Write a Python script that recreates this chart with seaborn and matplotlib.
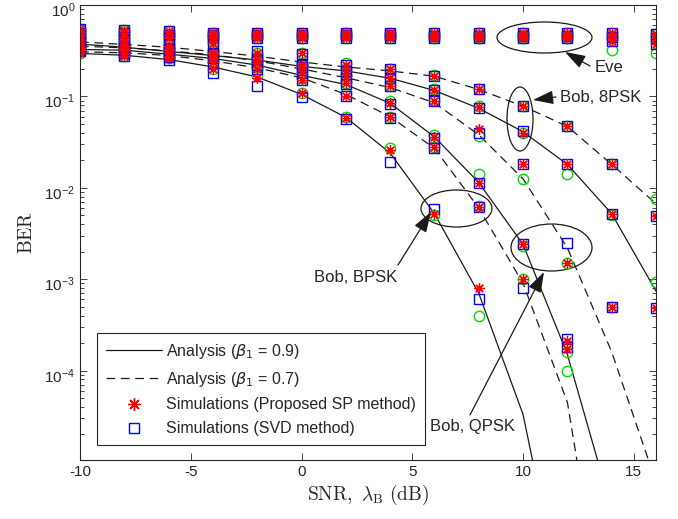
import matplotlib
matplotlib.use("Agg")
import matplotlib.pyplot as plt
import matplotlib.transforms as mtrans
import seaborn as sns
import pandas as pd
from matplotlib.lines import Line2D
from matplotlib.patches import Ellipse

nan = float("nan")
snr = [-10, -8, -6, -4, -2, 0, 2, 4, 6, 8, 10, 12, 14, 16]

# Analysis curves (beta1 = 0.9 solid, beta1 = 0.7 dashed)
ana_bpsk_09 = [0.295, 0.282, 0.253, 0.21, 0.163, 0.105, 0.059, 0.024, 0.0052, 7.0e-4, 3.3e-5, 1.5e-7, 1e-10, 1e-13]
ana_bpsk_07 = [0.307, 0.30, 0.28, 0.245, 0.205, 0.16, 0.105, 0.06, 0.027, 0.0060, 9.0e-4, 4.5e-5, 5e-8, 1e-11]
ana_qpsk_09 = [0.326, 0.32, 0.29, 0.26, 0.22, 0.17, 0.135, 0.084, 0.036, 0.0114, 0.0024, 1.5e-4, 3e-6, 1e-9]
ana_qpsk_07 = [0.354, 0.34, 0.315, 0.285, 0.245, 0.20, 0.16, 0.125, 0.085, 0.038, 0.0125, 0.0022, 1.6e-4, 6e-6]
ana_8psk_09 = [0.373, 0.345, 0.31, 0.28, 0.25, 0.213, 0.19, 0.158, 0.116, 0.074, 0.041, 0.018, 0.0052, 7.4e-4]
ana_8psk_07 = [0.395, 0.37, 0.345, 0.31, 0.275, 0.238, 0.21, 0.19, 0.166, 0.119, 0.078, 0.047, 0.018, 0.0067]

# Simulations: proposed SP method (red), SVD method (blue), extra (green)
sp_bpsk_09 = [0.30, 0.28, 0.26, 0.20, 0.16, 0.11, 0.058, 0.026, 0.0052, 8.0e-4, nan, nan, nan, nan]
svd_bpsk_09 = [0.31, 0.275, 0.25, 0.18, 0.13, 0.098, 0.057, 0.019, 0.0058, 6.0e-4, nan, nan, nan, nan]
gr_bpsk_09 = [0.30, 0.28, 0.26, 0.20, 0.17, 0.11, 0.060, 0.027, 0.0050, 4.0e-4, nan, nan, nan, nan]

sp_bpsk_07 = [0.32, 0.30, 0.28, 0.24, 0.20, 0.15, 0.10, 0.059, 0.028, 0.0062, 1.0e-3, 1.7e-4, nan, nan]
svd_bpsk_07 = [0.32, 0.30, 0.27, 0.23, 0.20, 0.15, 0.10, 0.058, 0.027, 0.0062, 8.0e-4, 1.8e-4, nan, nan]
gr_bpsk_07 = [0.31, 0.30, 0.28, 0.24, 0.21, 0.16, 0.11, 0.060, 0.028, 0.0063, 1.0e-3, 1.0e-4, nan, nan]

sp_qpsk_09 = [0.34, 0.32, 0.30, 0.26, 0.23, 0.18, 0.14, 0.084, 0.036, 0.0114, 0.0024, 2.1e-4, nan, nan]
svd_qpsk_09 = [0.34, 0.32, 0.29, 0.26, 0.22, 0.18, 0.135, 0.082, 0.035, 0.0114, 0.0024, 2.2e-4, nan, nan]
gr_qpsk_09 = [0.35, 0.33, 0.30, 0.27, 0.23, 0.18, 0.14, 0.088, 0.038, 0.014, 0.0023, 1.6e-4, nan, nan]

sp_qpsk_07 = [0.36, 0.34, 0.32, 0.29, 0.25, 0.21, 0.165, 0.13, 0.09, 0.044, 0.018, 0.0015, 5.0e-4, nan]
svd_qpsk_07 = [0.36, 0.35, 0.32, 0.29, 0.25, 0.21, 0.16, 0.13, 0.09, 0.040, 0.018, 0.0025, 5.0e-4, nan]
gr_qpsk_07 = [0.37, 0.35, 0.33, 0.30, 0.26, 0.22, 0.17, 0.13, 0.092, 0.037, 0.0125, 0.0015, 5.0e-4, nan]

sp_8psk_09 = [0.38, 0.36, 0.33, 0.30, 0.25, 0.22, 0.19, 0.16, 0.116, 0.076, 0.040, 0.018, 0.0052, 4.8e-4]
svd_8psk_09 = [0.38, 0.36, 0.33, 0.30, 0.26, 0.22, 0.19, 0.16, 0.116, 0.074, 0.042, 0.018, 0.0052, 4.8e-4]
gr_8psk_09 = [0.39, 0.37, 0.34, 0.31, 0.26, 0.23, 0.20, 0.16, 0.12, 0.078, 0.040, 0.014, 0.0050, 9.3e-4]

sp_8psk_07 = [0.41, 0.40, 0.36, 0.38, 0.30, 0.30, 0.22, 0.20, 0.166, 0.119, 0.078, 0.047, 0.018, 0.0049]
svd_8psk_07 = [0.42, 0.40, 0.37, 0.37, 0.31, 0.29, 0.22, 0.20, 0.166, 0.119, 0.078, 0.047, 0.018, 0.0049]
gr_8psk_07 = [0.42, 0.41, 0.37, 0.38, 0.30, 0.30, 0.23, 0.20, 0.17, 0.12, 0.078, 0.047, 0.018, 0.0076]

sp_eve_bpsk = [0.55, 0.53, 0.52, 0.50, 0.50, 0.50, 0.50, 0.50, 0.50, 0.50, 0.50, 0.50, 0.49, 0.48]
sp_eve_qpsk = [0.50, 0.50, 0.47, 0.47, 0.47, 0.47, 0.47, 0.47, 0.46, 0.46, 0.46, 0.46, 0.45, 0.44]
sp_eve_8psk = [0.47, 0.45, 0.44, 0.44, 0.44, 0.44, 0.43, 0.43, 0.43, 0.43, 0.43, 0.43, 0.40, 0.37]
gr_eve_8psk = [0.46, 0.45, 0.44, 0.44, 0.44, 0.44, 0.43, 0.43, 0.43, 0.43, 0.43, 0.43, 0.32, 0.30]

legend_labels = [r"Analysis ($\beta_1$ = 0.9)", r"Analysis ($\beta_1$ = 0.7)",
                 "Simulations (Proposed SP method)", "Simulations (SVD method)"]

sns.set_theme(style="ticks")
plt.rcParams["font.family"] = ["Liberation Sans", "DejaVu Sans"]
plt.rcParams["axes.unicode_minus"] = False

W, H = 678, 519
fig = plt.figure(figsize=(W / 100, H / 100), dpi=100)
ax = fig.add_axes([80 / W, 1 - 460 / H, 576 / W, 455 / H])
ax.set_yscale("log")

dash = (0, (7, 4.5))
curves = [(ana_bpsk_09, "-"), (ana_bpsk_07, dash), (ana_qpsk_09, "-"),
          (ana_qpsk_07, dash), (ana_8psk_09, "-"), (ana_8psk_07, dash)]
for vals, ls in curves:
    sns.lineplot(x=snr, y=vals, ax=ax, color="k", linewidth=0.9, linestyle=ls,
                 estimator=None, sort=False, legend=False)

sp_sets = [sp_bpsk_09, sp_bpsk_07, sp_qpsk_09, sp_qpsk_07, sp_8psk_09, sp_8psk_07,
           sp_eve_bpsk, sp_eve_qpsk, sp_eve_8psk]
svd_sets = [svd_bpsk_09, svd_bpsk_07, svd_qpsk_09, svd_qpsk_07, svd_8psk_09, svd_8psk_07,
            sp_eve_bpsk, sp_eve_qpsk, sp_eve_8psk]
gr_sets = [gr_bpsk_09, gr_bpsk_07, gr_qpsk_09, gr_qpsk_07, gr_8psk_09, gr_8psk_07,
           sp_eve_bpsk, sp_eve_qpsk, gr_eve_8psk]

star = (8, 2, 0)


def marks(vals, marker, color, size, mew):
    df = pd.DataFrame({"snr": snr, "ber": vals}).dropna()
    sns.lineplot(data=df, x="snr", y="ber", ax=ax, linestyle="none", marker=marker,
                 markersize=size, markerfacecolor="none", markeredgecolor=color,
                 markeredgewidth=mew, color=color, estimator=None, sort=False, legend=False)


for vals in gr_sets:
    marks(vals, "o", "#00e000", 7.5, 1.0)
for vals in svd_sets:
    marks(vals, "s", "#0000ff", 6.5, 1.0)
for vals in sp_sets:
    marks(vals, star, "#ff0000", 7.5, 0.9)

ax.set_xlim(-10, 16)
ax.set_ylim(1.05e-5, 1)
ax.set_xticks([-10, -5, 0, 5, 10, 15])
ax.set_yticks([1e-4, 1e-3, 1e-2, 1e-1, 1])
ax.yaxis.set_minor_locator(matplotlib.ticker.LogLocator(base=10, subs=range(2, 10), numticks=20))
ax.xaxis.set_minor_locator(matplotlib.ticker.NullLocator())
ax.tick_params(which="both", direction="in", top=True, right=True, colors="#262626",
               labelsize=11, width=0.6)
ax.tick_params(which="major", length=5)
ax.tick_params(which="minor", length=3)
for s in ax.spines.values():
    s.set_color("#262626")
    s.set_linewidth(0.8)

# MATLAB places the exponent labels slightly below the tick
shift = mtrans.ScaledTranslation(0, -3 / 72, fig.dpi_scale_trans)
for lab in ax.get_yticklabels():
    lab.set_transform(lab.get_transform() + shift)

ax.set_xlabel(r"$\mathrm{SNR},\ \lambda_{\mathrm{B}}\ \mathrm{(dB)}$", math_fontfamily="cm",
              fontsize=14, color="#262626", labelpad=3)
ax.set_ylabel(r"$\mathrm{BER}$", math_fontfamily="cm", fontsize=14, color="#262626", labelpad=6)

handles = [Line2D([], [], color="k", lw=0.9, ls="-"),
           Line2D([], [], color="k", lw=0.9, ls=dash),
           Line2D([], [], color="#ff0000", marker=star, ls="none", markersize=9, mew=1.0),
           Line2D([], [], color="#0000ff", marker="s", ls="none", markersize=7,
                  markerfacecolor="none", mew=1.0)]
leg = ax.legend(handles, legend_labels, loc="upper left",
                bbox_to_anchor=(97 / W, 1 - 333 / H), bbox_transform=fig.transFigure,
                borderaxespad=0, fancybox=False, framealpha=1, edgecolor="#262626",
                fontsize=11.5, handlelength=3.5, labelspacing=0.55, borderpad=0.55,
                handletextpad=0.3)
leg.get_frame().set_linewidth(0.8)

ft = fig.transFigure


def fx(px):
    return px / W


def fy(py):
    return 1 - py / H


for cx, cy, w, h in [(544.5, 37.5, 95, 31), (520, 119, 26, 64),
                     (456.5, 208.5, 71, 37), (551.5, 247.5, 81, 47)]:
    ax.add_patch(Ellipse((fx(cx), fy(cy)), w / W, h / H, transform=ft, fill=False,
                         edgecolor="k", lw=0.9, clip_on=False))

arrow = dict(arrowstyle="-|>,head_length=0.9,head_width=0.3", color="k", lw=0.9,
             mutation_scale=14, shrinkA=0, shrinkB=0)
for tail, tip in [((590, 66), (565, 52)), ((556, 97), (533, 100)),
                  ((398, 265), (431, 212)), ((470, 415), (544, 272))]:
    ax.annotate("", xy=(fx(tip[0]), fy(tip[1])), xycoords="figure fraction",
                xytext=(fx(tail[0]), fy(tail[1])), textcoords="figure fraction",
                arrowprops=arrow)

fig.text(fx(595), fy(67), "Eve", ha="left", va="center", fontsize=12)
fig.text(fx(560), fy(98), "Bob, 8PSK", ha="left", va="center", fontsize=12)
fig.text(fx(397), fy(278), "Bob, BPSK", ha="right", va="center", fontsize=12)
fig.text(fx(473), fy(427), "Bob, QPSK", ha="center", va="center", fontsize=12)

fig.savefig("out.png", dpi=100)
